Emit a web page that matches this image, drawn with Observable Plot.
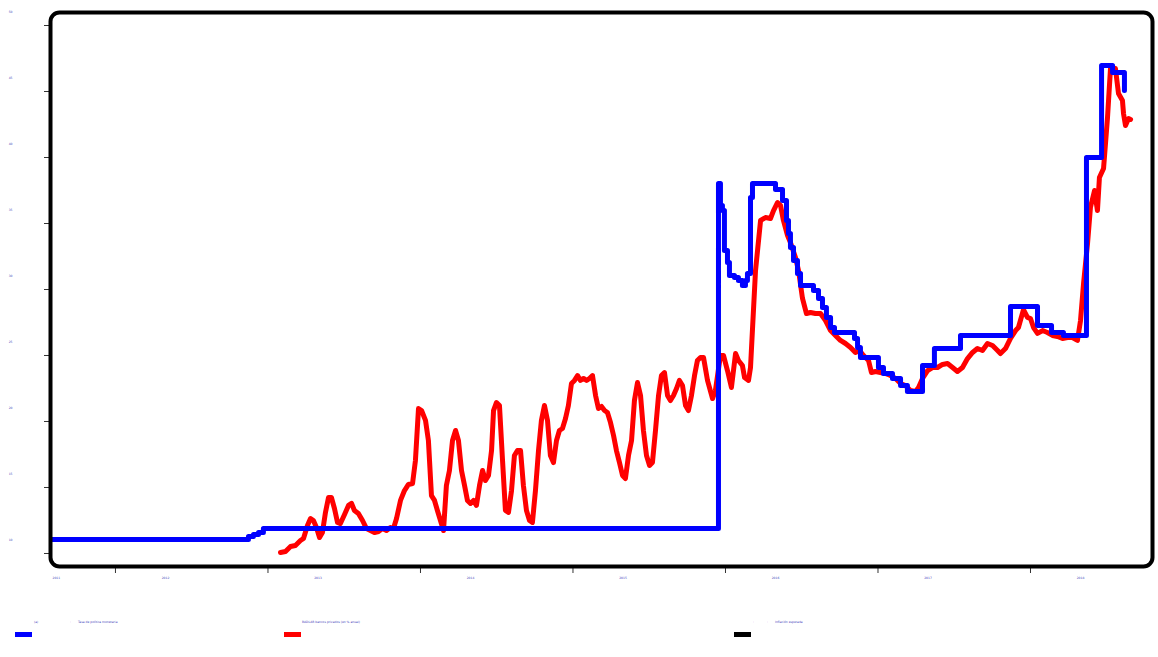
<!DOCTYPE html>
<html>
<head>
<meta charset="utf-8">
<script src="https://cdn.jsdelivr.net/npm/d3@7"></script>
<script src="https://cdn.jsdelivr.net/npm/@observablehq/plot@0.6"></script>
<style>
  body { margin: 0; background: #fff; font-family: "DejaVu Sans", sans-serif; }
  #legend { position: relative; width: 1158px; height: 57px; }
  #legend .sw { position: absolute; width: 17px; height: 5px; }
  #legend .tx { position: absolute; font-size: 3px; color: #4444bb; white-space: nowrap; line-height: 4px; }
</style>
</head>
<body>
<div id="chart"></div>
<div id="legend"></div>
<script>
// Decimal years and rates (% per year)
const policyT = [2011.574, 2012.872, 2012.905, 2012.938, 2012.970, 2015.954, 2015.967, 2015.980, 2015.993, 2016.013, 2016.026, 2016.059, 2016.085, 2016.111, 2016.131, 2016.144, 2016.164, 2016.177, 2016.328, 2016.374, 2016.400, 2016.413, 2016.426, 2016.446, 2016.472, 2016.492, 2016.577, 2016.610, 2016.636, 2016.662, 2016.689, 2016.715, 2016.846, 2016.866, 2016.885, 2017.003, 2017.036, 2017.095, 2017.148, 2017.193, 2017.292, 2017.370, 2017.541, 2017.869, 2018.046, 2018.138, 2018.216, 2018.367, 2018.466, 2018.538, 2018.616];
const policyV = [11.06, 11.29, 11.44, 11.59, 11.89, 38.03, 36.36, 35.98, 32.95, 32.05, 31.06, 30.91, 30.68, 30.30, 30.68, 31.21, 36.97, 38.03, 37.58, 36.74, 35.23, 34.24, 33.18, 32.20, 31.21, 30.30, 29.92, 29.32, 28.64, 27.88, 27.12, 26.74, 26.29, 25.61, 24.85, 24.09, 23.64, 23.26, 22.73, 22.27, 24.24, 25.53, 26.52, 28.71, 27.27, 26.74, 26.52, 40.00, 46.97, 46.44, 45.08];

const marketT = [2013.082, 2013.115, 2013.148, 2013.180, 2013.213, 2013.233, 2013.259, 2013.279, 2013.298, 2013.318, 2013.338, 2013.357, 2013.377, 2013.397, 2013.416, 2013.436, 2013.456, 2013.475, 2013.502, 2013.528, 2013.548, 2013.567, 2013.593, 2013.620, 2013.646, 2013.672, 2013.698, 2013.725, 2013.751, 2013.777, 2013.803, 2013.823, 2013.843, 2013.869, 2013.895, 2013.921, 2013.948, 2013.967, 2013.987, 2014.007, 2014.033, 2014.052, 2014.072, 2014.092, 2014.111, 2014.131, 2014.151, 2014.170, 2014.190, 2014.210, 2014.230, 2014.249, 2014.269, 2014.289, 2014.308, 2014.328, 2014.348, 2014.367, 2014.387, 2014.407, 2014.426, 2014.446, 2014.466, 2014.479, 2014.498, 2014.518, 2014.538, 2014.557, 2014.577, 2014.597, 2014.616, 2014.636, 2014.656, 2014.675, 2014.695, 2014.715, 2014.734, 2014.754, 2014.774, 2014.793, 2014.813, 2014.833, 2014.852, 2014.872, 2014.892, 2014.911, 2014.931, 2014.951, 2014.970, 2014.990, 2015.010, 2015.030, 2015.049, 2015.069, 2015.089, 2015.108, 2015.128, 2015.148, 2015.167, 2015.187, 2015.207, 2015.226, 2015.246, 2015.266, 2015.285, 2015.305, 2015.325, 2015.344, 2015.364, 2015.384, 2015.403, 2015.423, 2015.443, 2015.462, 2015.482, 2015.502, 2015.521, 2015.541, 2015.561, 2015.580, 2015.600, 2015.620, 2015.639, 2015.659, 2015.679, 2015.698, 2015.718, 2015.738, 2015.757, 2015.777, 2015.797, 2015.816, 2015.836, 2015.856, 2015.882, 2015.915, 2015.934, 2015.967, 2015.987, 2016.013, 2016.039, 2016.066, 2016.085, 2016.111, 2016.125, 2016.151, 2016.164, 2016.197, 2016.230, 2016.262, 2016.295, 2016.315, 2016.341, 2016.361, 2016.380, 2016.407, 2016.426, 2016.459, 2016.479, 2016.505, 2016.531, 2016.557, 2016.590, 2016.623, 2016.656, 2016.689, 2016.721, 2016.754, 2016.787, 2016.820, 2016.852, 2016.879, 2016.905, 2016.938, 2016.957, 2016.984, 2017.016, 2017.049, 2017.082, 2017.115, 2017.148, 2017.180, 2017.213, 2017.246, 2017.266, 2017.292, 2017.325, 2017.357, 2017.390, 2017.423, 2017.456, 2017.489, 2017.521, 2017.554, 2017.587, 2017.620, 2017.652, 2017.685, 2017.718, 2017.751, 2017.784, 2017.803, 2017.836, 2017.869, 2017.902, 2017.921, 2017.954, 2017.980, 2018.000, 2018.020, 2018.046, 2018.079, 2018.111, 2018.144, 2018.177, 2018.210, 2018.243, 2018.275, 2018.308, 2018.328, 2018.348, 2018.374, 2018.393, 2018.420, 2018.439, 2018.452, 2018.479, 2018.505, 2018.525, 2018.557, 2018.577, 2018.603, 2018.610, 2018.623, 2018.643, 2018.656];
const marketV = [10.08, 10.15, 10.53, 10.61, 10.98, 11.14, 12.12, 12.65, 12.50, 11.97, 11.21, 11.59, 13.11, 14.24, 14.24, 13.41, 12.35, 12.27, 12.95, 13.64, 13.79, 13.26, 13.03, 12.50, 11.89, 11.74, 11.59, 11.67, 11.89, 11.74, 11.97, 11.89, 12.65, 14.02, 14.77, 15.23, 15.30, 17.05, 20.98, 20.83, 20.08, 18.56, 14.39, 14.02, 13.26, 12.50, 11.74, 15.15, 16.29, 18.56, 19.32, 18.56, 16.29, 15.15, 14.02, 13.79, 14.02, 13.64, 15.15, 16.29, 15.53, 15.91, 17.80, 20.83, 21.44, 21.21, 17.05, 13.26, 13.11, 14.77, 17.42, 17.80, 17.80, 15.15, 13.26, 12.50, 12.35, 14.77, 17.80, 20.08, 21.21, 20.08, 17.42, 16.89, 18.56, 19.32, 19.47, 20.23, 21.21, 22.88, 23.11, 23.48, 23.11, 23.26, 23.11, 23.26, 23.48, 21.97, 20.98, 21.14, 20.83, 20.68, 19.92, 18.94, 17.80, 16.89, 15.91, 15.68, 17.42, 18.56, 21.59, 22.95, 21.97, 19.32, 17.42, 16.67, 16.89, 19.32, 21.97, 23.48, 23.71, 21.97, 21.59, 21.97, 22.50, 23.11, 22.73, 21.21, 20.83, 21.97, 23.48, 24.62, 24.85, 24.85, 23.11, 21.74, 22.35, 25.00, 25.00, 23.86, 22.58, 25.15, 24.62, 24.24, 23.33, 23.11, 24.09, 31.44, 35.23, 35.45, 35.38, 35.98, 36.59, 36.36, 35.23, 34.09, 33.56, 32.42, 31.44, 29.32, 28.18, 28.26, 28.18, 28.18, 27.65, 26.89, 26.52, 26.14, 25.91, 25.61, 25.23, 25.38, 25.00, 24.62, 23.71, 23.79, 23.71, 23.64, 23.48, 23.26, 22.88, 22.73, 22.35, 22.27, 22.58, 23.26, 23.86, 24.09, 24.09, 24.32, 24.39, 24.09, 23.79, 24.09, 24.77, 25.23, 25.53, 25.38, 25.91, 25.76, 25.38, 25.15, 25.53, 26.29, 26.89, 27.12, 28.48, 27.88, 27.80, 27.12, 26.67, 26.89, 26.74, 26.52, 26.44, 26.29, 26.36, 26.36, 26.14, 27.65, 30.45, 33.48, 36.21, 37.50, 35.98, 38.48, 39.17, 43.03, 46.82, 46.74, 44.85, 44.32, 43.33, 42.42, 42.95, 42.88];

const yearTicks = [2012, 2013, 2014, 2015, 2016, 2017, 2018];
const firstYearLabel = "2011";
const rateTicks = [10, 15, 20, 25, 30, 35, 40, 45, 50];
const xDomain = [2011.574, 2018.800];
const yDomain = [9.015, 50.985];

const seriesNames = ["(a)", "Tasa de política monetaria", "BADLAR bancos privados (en % anual)", "Inflación esperada"];
const seriesColors = ["#0000ff", "#ff0000", "#000000"];

const policy = policyT.map((t, i) => ({t, v: policyV[i]}));
const market = marketT.map((t, i) => ({t, v: marketV[i]}));

const labelColor = "#4444bb";

const chart = Plot.plot({
  width: 1158,
  height: 600,
  marginLeft: 50,
  marginRight: 6,
  marginTop: 12,
  marginBottom: 34,
  style: {fontFamily: "DejaVu Sans, sans-serif", fontSize: "3px", background: "#fff"},
  x: {domain: xDomain, ticks: yearTicks, tickFormat: d => String(d)},
  y: {domain: yDomain, ticks: rateTicks},
  marks: [
    // tick marks only
    Plot.axisY({ticks: rateTicks, tickSize: 6, tickFormat: () => "", label: null, stroke: "#333"}),
    // tick labels only, shifted up as in the reference
    Plot.axisY({ticks: rateTicks, tickSize: 0, tickPadding: 38, dy: -13, label: null, fill: labelColor, fontSize: 3}),
    Plot.axisX({ticks: yearTicks, tickSize: 7, tickFormat: () => "", label: null, stroke: "#333"}),
    Plot.axisX({ticks: yearTicks, tickSize: 0, tickPadding: 10, dx: 50, label: null, fill: labelColor, fontSize: 3, tickFormat: d => String(d)}),
    Plot.text([firstYearLabel], {frameAnchor: "bottom-left", text: d => d, dx: 2, dy: 12, fill: labelColor, fontSize: 3, textAnchor: "start"}),
    Plot.line(market, {x: "t", y: "v", stroke: seriesColors[1], strokeWidth: 5, strokeLinejoin: "round", clip: true}),
    Plot.line(policy, {x: "t", y: "v", stroke: seriesColors[0], strokeWidth: 5, curve: "step-after", clip: true}),
    Plot.frame({stroke: "#000", strokeWidth: 4, rx: 9, ry: 9})
  ]
});
document.getElementById("chart").appendChild(chart);

const legend = document.getElementById("legend");
function add(cls, style, text) {
  const el = document.createElement("div");
  el.className = cls;
  el.setAttribute("style", style);
  if (text) el.textContent = text;
  legend.appendChild(el);
}
add("sw", "left:15px; top:32px; background:" + seriesColors[0], "");
add("tx", "left:34px; top:20px;", seriesNames[0]);
add("tx", "left:70px; top:20px;", "·");
add("tx", "left:78px; top:20px;", seriesNames[1]);
add("sw", "left:284px; top:32px; background:" + seriesColors[1], "");
add("tx", "left:302px; top:20px;", seriesNames[2]);
add("sw", "left:734px; top:32px; background:" + seriesColors[2], "");
add("tx", "left:753px; top:20px;", "·");
add("tx", "left:767px; top:20px;", "·");
add("tx", "left:775px; top:20px;", seriesNames[3]);
</script>
</body>
</html>
